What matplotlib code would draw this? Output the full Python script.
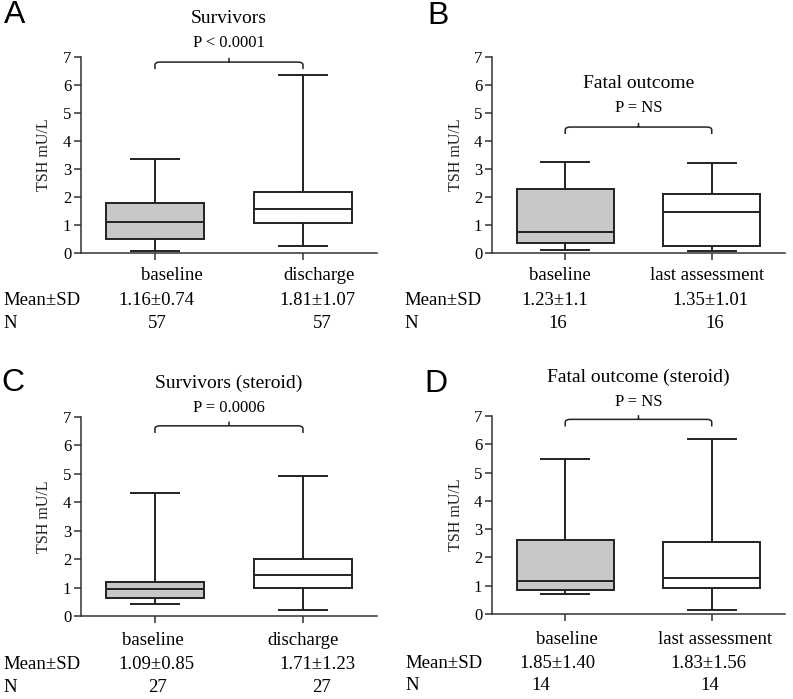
"""
TSH box plots, four panels
"""

import matplotlib.pyplot as plt
from matplotlib.path import Path
from matplotlib.patches import PathPatch

plt.rcParams['font.family'] = ['Liberation Serif', 'DejaVu Serif']

# data: whisker low, Q1, median, Q3, whisker high
letters = ['A', 'B', 'C', 'D']
titles = ['Survivors', 'Fatal outcome', 'Survivors (steroid)', 'Fatal outcome (steroid)']
p_texts = ['P < 0.0001', 'P = NS', 'P = 0.0006', 'P = NS']
categories = [['baseline', 'discharge'], ['baseline', 'last assessment'],
              ['baseline', 'discharge'], ['baseline', 'last assessment']]
survivors = [[0.07, 0.51, 1.10, 1.78, 3.36], [0.26, 1.07, 1.58, 2.17, 6.35]]
fatal = [[0.12, 0.36, 0.75, 2.28, 3.24], [0.06, 0.24, 1.45, 2.10, 3.20]]
survivors_steroid = [[0.44, 0.635, 0.96, 1.21, 4.32], [0.22, 0.99, 1.46, 2.01, 4.91]]
fatal_steroid = [[0.72, 0.86, 1.18, 2.62, 5.49], [0.13, 0.91, 1.27, 2.55, 6.19]]
box_data = [survivors, fatal, survivors_steroid, fatal_steroid]
mean_sd = [['1.16±0.74', '1.81±1.07'], ['1.23±1.1', '1.35±1.01'],
           ['1.09±0.85', '1.71±1.23'], ['1.85±1.40', '1.83±1.56']]
n_counts = [['57', '57'], ['16', '16'], ['27', '27'], ['14', '14']]
y_ticks = [0, 1, 2, 3, 4, 5, 6, 7]

# layout
rects = [[0.1021, 0.638, 0.3733, 0.2804], [0.6204, 0.638, 0.3695, 0.2804],
         [0.1021, 0.1187, 0.3733, 0.2847], [0.6204, 0.1216, 0.3695, 0.2833]]
title_y = [8.39, 6.07, 8.2, 8.38]
p_y = [7.5, 5.18, 7.32, 7.49]
bracket_y = [6.82, 4.5, 6.69, 6.88]
label_x = [[1.115, 2.108], [0.964, 1.968], [0.986, 2.0], [1.012, 2.022]]
stat_x = [[1.007, 2.095], [0.930, 1.988], [1.007, 2.095], [0.944, 1.974]]
n_x = [[1.014, 2.128], [0.950, 2.022], [1.014, 2.128], [0.834, 1.988]]
row_dy = [[22, 47, 70], [22, 47, 70], [24, 48, 71], [25, 49, 71]]
row_label_px = [3, 404, 3, 405]
letter_pos = [(15, 15), (438, 16), (13, 383), (436, 384)]

W, H = 793, 699
line_col = '#222222'
fill_cols = ['#c8c8c8', 'white']

fig = plt.figure(figsize=(W / 100, H / 100), dpi=100)

for i in range(4):
    ax = fig.add_axes(rects[i])
    stats = []
    for lo, q1, med, q3, hi in box_data[i]:
        stats.append(dict(whislo=lo, q1=q1, med=med, q3=q3, whishi=hi, fliers=[]))
    bp = ax.bxp(stats, positions=[1, 2], widths=0.66, patch_artist=True,
                boxprops=dict(edgecolor=line_col, linewidth=1.4),
                medianprops=dict(color=line_col, linewidth=1.4),
                whiskerprops=dict(color=line_col, linewidth=1.4),
                capprops=dict(color=line_col, linewidth=1.4),
                showfliers=False)
    for patch, col in zip(bp['boxes'], fill_cols):
        patch.set_facecolor(col)

    ax.set_xlim(0.5, 2.5)
    ax.set_ylim(0, 7)
    ax.set_yticks(y_ticks)
    ax.set_xticks([1, 2])
    ax.set_xticklabels([])
    for s in ['top', 'right']:
        ax.spines[s].set_visible(False)
    for s in ['left', 'bottom']:
        ax.spines[s].set_linewidth(1.1)
        ax.spines[s].set_color('#333333')
    ax.tick_params(axis='both', direction='out', length=5, width=1.1,
                   color='#333333', labelsize=12, pad=2)
    ax.set_ylabel('TSH mU/L', fontsize=11.5, color='#222222')
    ax.yaxis.set_label_coords(-0.097, 0.5)

    # title, p value and bracket
    ax.text(1.5, title_y[i], titles[i], ha='center', va='center', fontsize=14, clip_on=False)
    ax.text(1.5, p_y[i], p_texts[i], ha='center', va='center', fontsize=12, clip_on=False)
    y = bracket_y[i]
    d, r, rx, up = 0.25, 0.1, 0.035, 0.15
    verts = [(1, y - d), (1, y - r), (1, y), (1 + rx, y), (2 - rx, y), (2, y), (2, y - r), (2, y - d),
             (1.5, y), (1.5, y + up)]
    codes = [Path.MOVETO, Path.LINETO, Path.CURVE3, Path.CURVE3, Path.LINETO, Path.CURVE3, Path.CURVE3,
             Path.LINETO, Path.MOVETO, Path.LINETO]
    ax.add_patch(PathPatch(Path(verts, codes), fill=False, edgecolor=line_col, linewidth=1.1,
                           clip_on=False))

    # category labels and table rows
    for j in range(2):
        ax.annotate(categories[i][j], xy=(label_x[i][j], 0), xycoords=('data', 'axes fraction'),
                    xytext=(0, -row_dy[i][0]), textcoords='offset pixels',
                    ha='center', va='center', fontsize=13.5)
        ax.annotate(mean_sd[i][j], xy=(stat_x[i][j], 0), xycoords=('data', 'axes fraction'),
                    xytext=(0, -row_dy[i][1]), textcoords='offset pixels',
                    ha='center', va='center', fontsize=13.5)
        ax.annotate(n_counts[i][j], xy=(n_x[i][j], 0), xycoords=('data', 'axes fraction'),
                    xytext=(0, -row_dy[i][2]), textcoords='offset pixels',
                    ha='center', va='center', fontsize=13.5)
    for k, lab in [(1, 'Mean±SD'), (2, 'N')]:
        ax.annotate(lab, xy=(row_label_px[i] / W, 0),
                    xycoords=('figure fraction', 'axes fraction'),
                    xytext=(0, -row_dy[i][k]), textcoords='offset pixels',
                    ha='left', va='center', fontsize=13.5)

    lx, ly = letter_pos[i]
    fig.text(lx / W, 1 - ly / H, letters[i], ha='center', va='center', fontsize=23,
             family='Liberation Sans')

plt.savefig('out.png', dpi=100)
